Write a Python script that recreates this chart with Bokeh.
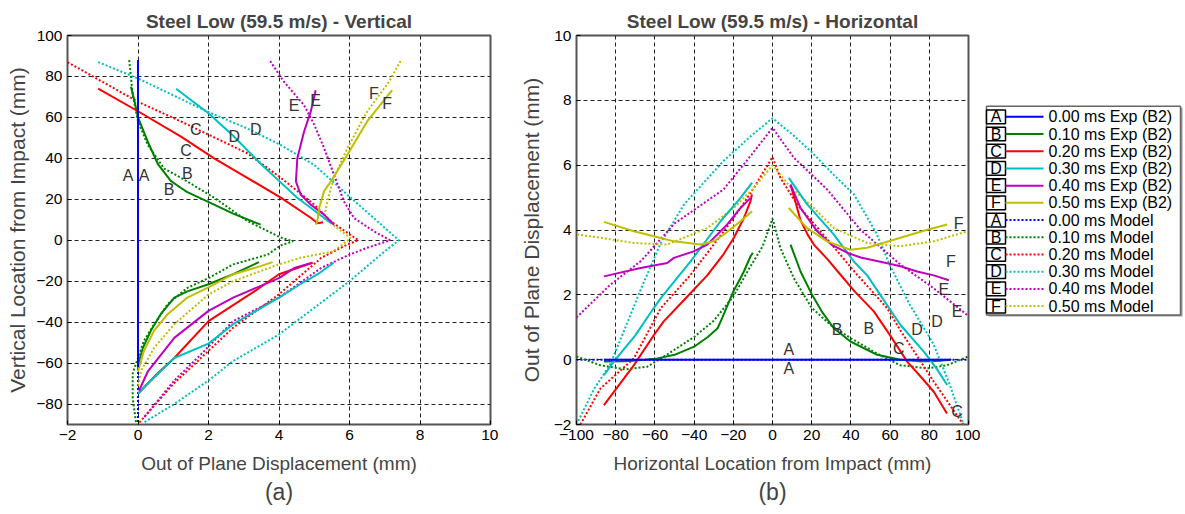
from bokeh.plotting import figure
from bokeh.layouts import row
from bokeh.models import Range1d, FixedTicker, Title, ColumnDataSource
from bokeh.core.properties import value
from bokeh.embed import file_html
from bokeh.resources import INLINE

FONT = "Liberation Sans"
LETTERS = ["A", "B", "C", "D", "E", "F"]
COLORS = ["#0000ff", "#008000", "#ff0000", "#00bfbf", "#bf00bf", "#bfbf00"]
TIMES = ["0.00", "0.10", "0.20", "0.30", "0.40", "0.50"]

# ---------------- (a) vertical: x = displacement (mm), y = vertical location (mm)
V_X_TICKS = [-2, 0, 2, 4, 6, 8, 10]
V_Y_TICKS = [-80, -60, -40, -20, 0, 20, 40, 60, 80, 100]

VA_EXP_X = [0, 0]
VA_EXP_Y = [88, -62]
VA_MOD_X = [0, 0]
VA_MOD_Y = [88, -90]

VB_EXP_UP_X = [-0.2, -0.1, 0.0, 0.28, 0.57, 0.93, 1.22, 1.4, 2.16, 2.7, 3.48]
VB_EXP_UP_Y = [75, 68, 60, 48, 37, 29, 25.5, 23.5, 17.4, 13, 7.6]
VB_EXP_LO_X = [3.43, 2.7, 2.0, 1.4, 1.03, 0.65, 0.37, 0.14, 0.03, 0.0]
VB_EXP_LO_Y = [-10.7, -16.6, -21.5, -25, -28, -36, -44, -52.5, -59, -63]
VB_MOD_X = [-0.25, -0.15, 0.0, 0.28, 0.74, 1.22, 2.16, 3.1, 4.05, 4.4, 4.05, 3.68, 2.7, 2.0,
            1.4, 0.85, 0.46, 0.17, 0.0, -0.15, -0.15, -0.05]
VB_MOD_Y = [88, 71, 58, 46.5, 35, 30.5, 20.8, 9.4, 1.3, -0.5, -2.5, -7, -11.8, -18.5,
            -23.3, -31, -41, -49, -57.4, -65, -77, -90]

VC_EXP_UP_X = [-1.13, 0, 1.22, 2.16, 3.1, 4.05, 4.9, 5.1, 5.25]
VC_EXP_UP_Y = [74, 63, 50.6, 40, 30.5, 20.8, 11, 8.3, 8.8]
VC_EXP_LO_X = [4.95, 4.0, 3.3, 2.0, 1.03, 0.56, 0.08, 0.0]
VC_EXP_LO_Y = [-11, -16.6, -25, -39.5, -57.5, -65, -73.5, -75]
VC_MOD_X = [-2.0, 0, 1.22, 3.1, 4.05, 5.0, 5.47, 6.25, 5.95, 5.2, 4.0, 2.7, 1.8, 1.0, 0.17, 0.0]
VC_MOD_Y = [87, 67.6, 58, 42.5, 30.5, 17.4, 9.2, 0, -2, -8.6, -26.4, -42.7, -57.3, -70.2, -86.5, -89.7]

VD_EXP_UP_X = [1.08, 1.5, 2.0, 2.7, 3.1, 3.5, 4.0, 4.5, 5.0, 5.47]
VD_EXP_UP_Y = [74, 68.5, 62, 51, 44, 37, 29, 21, 14.5, 8.4]
VD_EXP_LO_X = [5.55, 5.1, 4.6, 4.0, 2.7, 2.0, 1.03, 0.28, 0.0]
VD_EXP_LO_Y = [-11, -16.6, -21.5, -28, -41, -50.5, -57.5, -70, -75]
VD_MOD_X = [-1.13, 0, 1.97, 3.1, 4.05, 5.0, 5.94, 6.69, 7.4, 7.0, 6.0, 4.0, 2.7, 2.0, 1.03, 0.17]
VD_MOD_Y = [87, 79, 62.8, 54.6, 46.5, 36.8, 22.2, 10.8, 0, -5.4, -20, -46, -59, -68.5, -80, -89]

VE_EXP_UP_X = [5.04, 4.9, 4.71, 4.52, 4.48, 4.62, 4.9, 5.28, 5.56]
VE_EXP_UP_Y = [73.3, 62.8, 53, 40, 28.7, 22.2, 17.4, 12.5, 7.6]
VE_EXP_LO_X = [4.95, 4.43, 4.0, 2.7, 2.0, 1.03, 0.28, 0.03]
VE_EXP_LO_Y = [-11, -13.6, -18.5, -28, -34.5, -47.7, -64, -73.5]
VE_MOD_X = [3.75, 4.14, 4.71, 5.0, 5.28, 5.56, 5.84, 6.13, 6.69, 7.15, 6.5, 6.0, 5.2, 4.0, 2.7, 1.8, 1.03, 0.17]
VE_MOD_Y = [87.5, 77.4, 66, 56.4, 45, 32, 19, 10.8, 4.4, 0, -3.7, -7, -13.5, -28, -39.5, -55.5, -68.5, -86.6]

VF_EXP_UP_X = [7.21, 6.5, 5.94, 5.47, 5.28, 5.14, 5.09, 5.04]
VF_EXP_UP_Y = [73.3, 58, 41.8, 28.7, 24, 15.9, 9.4, 7.6]
VF_EXP_LO_X = [3.82, 3.3, 2.7, 2.0, 1.4, 0.85, 0.46, 0.17, 0.0]
VF_EXP_LO_Y = [-10.7, -13.6, -16.6, -23, -28, -36, -44, -54, -64]
VF_MOD_X = [7.45, 7.12, 6.5, 5.94, 5.56, 5.37, 5.28, 6.03, 5.55, 4.6, 4.0, 2.7, 2.0, 1.03, 0.46, 0.08, 0.0]
VF_MOD_Y = [87.5, 77.4, 62.8, 45, 30.5, 19, 10.8, 1.0, -5.4, -8.6, -11.8, -20, -26.5, -41, -52.5, -64, -72]

V_LABEL_TEXT = ["A", "A", "B", "B", "C", "C", "D", "D", "E", "E", "F", "F"]
V_LABEL_X = [-0.28, 0.17, 0.88, 1.4, 1.36, 1.64, 2.73, 3.34, 4.43, 5.04, 6.69, 7.07]
V_LABEL_Y = [31.6, 31.6, 25, 32.8, 44, 53.9, 50.6, 53.9, 66, 68.4, 71.7, 66.8]

# ---------------- (b) horizontal: x = horizontal location (mm), y = displacement (mm)
H_X_TICKS = [-100, -80, -60, -40, -20, 0, 20, 40, 60, 80, 100]
H_Y_TICKS = [-2, 0, 2, 4, 6, 8, 10]

HA_EXP_X = [-86, 91]
HA_EXP_Y = [0, 0]
HA_MOD_X = [-100, 100]
HA_MOD_Y = [0, 0]

HB_EXP_L_X = [-86, -75, -65, -58.7, -50, -40, -33, -28, -25.7, -20, -16.3, -14.6, -11.2, -10]
HB_EXP_L_Y = [-0.06, -0.05, 0.0, 0.04, 0.15, 0.4, 0.7, 0.97, 1.28, 2.1, 2.52, 2.72, 3.19, 3.3]
HB_EXP_R_X = [9.2, 14.3, 20.2, 25, 31.3, 39.8, 53.4, 65.3, 75, 82, 91]
HB_EXP_R_Y = [3.55, 2.72, 2.0, 1.5, 0.97, 0.56, 0.15, 0.0, -0.05, -0.05, 0.0]
HB_MOD_X = [-100, -88, -75, -64, -54, -40, -30, -20, -12, -5, 0, 4, 11, 20, 30, 40, 53, 65, 79, 89, 100]
HB_MOD_Y = [0.1, -0.17, -0.3, -0.22, 0.15, 0.7, 1.2, 1.95, 2.8, 3.5, 4.35, 3.45, 2.5, 1.6, 1.05, 0.66, 0.2, -0.17, -0.27, -0.17, 0.1]

HC_EXP_L_X = [-86, -70.7, -60.5, -55.5, -45, -33.3, -25, -19.7, -14.6, -11.2, -10.5]
HC_EXP_L_Y = [-1.4, -0.17, 0.76, 1.18, 1.85, 2.6, 3.25, 3.76, 4.37, 4.89, 5.1]
HC_EXP_R_X = [9.2, 12, 14.3, 18, 21.1, 28, 34.7, 42, 51.7, 60, 68.7, 76, 82.3, 89]
HC_EXP_R_Y = [5.4, 4.8, 4.3, 3.85, 3.55, 3.1, 2.62, 2.1, 1.49, 0.75, -0.06, -0.55, -0.99, -1.66]
HC_MOD_X = [-98, -87.8, -70.7, -57, -42, -24.8, -16.3, -9.5, 0, 4.1, 12.6, 24.5, 43.2, 58.5, 65.3, 82.3, 97.6]
HC_MOD_Y = [-2.0, -0.89, 0.04, 1.59, 2.6, 3.96, 4.68, 5.3, 6.25, 5.6, 4.79, 3.96, 2.62, 1.59, 0.9, -0.68, -2.02]

HD_EXP_L_X = [-86, -81, -70, -60.5, -57, -41.8, -26.5, -16.3, -10.4]
HD_EXP_L_Y = [-0.48, -0.06, 0.75, 1.6, 1.9, 3.03, 4.27, 4.99, 5.46]
HD_EXP_R_X = [8.3, 17.7, 31.3, 41.5, 48.3, 65.3, 77.2, 84, 89.1]
HD_EXP_R_Y = [5.61, 4.79, 3.86, 3.03, 2.6, 1.07, 0.25, -0.3, -0.78]
HD_MOD_X = [-100, -91, -83, -75, -67, -57, -45, -25, -11, 0, 11, 20, 31.3, 41.5, 53, 60, 70, 82, 90, 97.5]
HD_MOD_Y = [-2.0, -0.9, -0.17, 1.0, 2.2, 3.6, 4.8, 6.13, 6.9, 7.45, 6.9, 6.4, 5.7, 5.1, 3.9, 2.9, 1.7, 0.5, -0.7, -2.0]

HE_EXP_L_X = [-86, -67.3, -53.7, -50.3, -40.2, -33.3, -23.1, -16.3, -11.2]
HE_EXP_L_Y = [2.57, 2.83, 2.98, 3.14, 3.34, 3.55, 4.17, 4.68, 4.99]
HE_EXP_R_X = [9.2, 14.3, 22.8, 30, 38.1, 45, 56.8, 65.3, 73.8, 82.3, 90]
HE_EXP_R_Y = [5.4, 4.68, 3.96, 3.55, 3.3, 3.15, 3.0, 2.88, 2.72, 2.6, 2.45]
HE_MOD_X = [-100, -83, -67, -50, -25, -11, 0, 10.9, 27.9, 45, 65.3, 82.3, 99.3]
HE_MOD_Y = [1.3, 2.3, 3.05, 4.2, 5.25, 6.3, 7.15, 6.23, 5.25, 4.0, 2.93, 2.2, 1.38]

HF_EXP_L_X = [-86, -70.7, -60, -50.3, -36.7, -30, -24.8, -16.3, -10.4]
HF_EXP_L_Y = [4.25, 3.96, 3.8, 3.65, 3.55, 3.65, 3.86, 4.27, 4.58]
HF_EXP_R_X = [8.3, 17.7, 27.9, 39.8, 48.3, 65.3, 79, 89.1]
HF_EXP_R_Y = [4.68, 4.06, 3.65, 3.39, 3.45, 3.76, 4.01, 4.17]
HF_MOD_X = [-99.7, -87.8, -70.7, -53.7, -33.3, -19.7, -9.5, 0, 9.5, 21.1, 31.3, 48.3, 65.3, 82.3, 99.3]
HF_MOD_Y = [3.86, 3.76, 3.6, 3.55, 4.06, 4.68, 5.3, 6.0, 5.3, 4.68, 4.06, 3.6, 3.5, 3.65, 3.96]

H_LABEL_TEXT = ["F", "F", "E", "E", "D", "D", "B", "B", "C", "C", "A", "A"]
H_LABEL_X = [95, 91, 87.4, 94.2, 84, 73.8, 33, 49.1, 64.4, 94.2, 8.3, 8.3]
H_LABEL_Y = [4.2, 3.03, 2.16, 1.49, 1.18, 0.92, 0.92, 0.97, 0.35, -1.61, 0.3, -0.27]

LEGEND_LABELS = [t + " ms Exp (B2)" for t in TIMES] + [t + " ms Model" for t in TIMES]

V_SERIES = [
    (VA_MOD_X, VA_MOD_Y, [(VA_EXP_X, VA_EXP_Y)]),
    (VB_MOD_X, VB_MOD_Y, [(VB_EXP_UP_X, VB_EXP_UP_Y), (VB_EXP_LO_X, VB_EXP_LO_Y)]),
    (VC_MOD_X, VC_MOD_Y, [(VC_EXP_UP_X, VC_EXP_UP_Y), (VC_EXP_LO_X, VC_EXP_LO_Y)]),
    (VD_MOD_X, VD_MOD_Y, [(VD_EXP_UP_X, VD_EXP_UP_Y), (VD_EXP_LO_X, VD_EXP_LO_Y)]),
    (VE_MOD_X, VE_MOD_Y, [(VE_EXP_UP_X, VE_EXP_UP_Y), (VE_EXP_LO_X, VE_EXP_LO_Y)]),
    (VF_MOD_X, VF_MOD_Y, [(VF_EXP_UP_X, VF_EXP_UP_Y), (VF_EXP_LO_X, VF_EXP_LO_Y)]),
]
H_SERIES = [
    (HA_MOD_X, HA_MOD_Y, [(HA_EXP_X, HA_EXP_Y)]),
    (HB_MOD_X, HB_MOD_Y, [(HB_EXP_L_X, HB_EXP_L_Y), (HB_EXP_R_X, HB_EXP_R_Y)]),
    (HC_MOD_X, HC_MOD_Y, [(HC_EXP_L_X, HC_EXP_L_Y), (HC_EXP_R_X, HC_EXP_R_Y)]),
    (HD_MOD_X, HD_MOD_Y, [(HD_EXP_L_X, HD_EXP_L_Y), (HD_EXP_R_X, HD_EXP_R_Y)]),
    (HE_MOD_X, HE_MOD_Y, [(HE_EXP_L_X, HE_EXP_L_Y), (HE_EXP_R_X, HE_EXP_R_Y)]),
    (HF_MOD_X, HF_MOD_Y, [(HF_EXP_L_X, HF_EXP_L_Y), (HF_EXP_R_X, HF_EXP_R_Y)]),
]

H = 512
MODEL_DASH = "2 2"


def make_panel(width, xr, yr, xticks, yticks, title, xlabel, ylabel, sub, bl, br, ystand):
    p = figure(width=width, height=H, x_range=Range1d(*xr), y_range=Range1d(*yr),
               output_backend="svg", toolbar_location=None,
               min_border_left=bl, min_border_right=br, min_border_top=35, min_border_bottom=88)
    p.title.text = title
    p.title.text_font = FONT
    p.title.text_font_size = "19px"
    p.title.text_font_style = "bold"
    p.title.align = "center"
    p.title.standoff = 8
    p.title.offset = 0
    for ax, ticks, lab in ((p.xaxis, xticks, xlabel), (p.yaxis, yticks, ylabel)):
        ax.ticker = FixedTicker(ticks=ticks)
        ax.axis_label = lab
        ax.axis_label_text_font = FONT
        ax.axis_label_text_font_style = "normal"
        ax.major_label_text_font = FONT
        ax.major_label_text_font_size = "15.5px"
        ax.major_label_text_color = "#000000"
        ax.axis_line_color = None
        ax.major_tick_out = 0
        ax.major_tick_in = 4
        ax.major_tick_line_color = "#000000"
        ax.minor_tick_line_color = None
        ax.major_label_standoff = 5
    p.xaxis.axis_label_text_font_size = "19px"
    p.yaxis.axis_label_text_font_size = "21px"
    p.xaxis.axis_label_standoff = 10
    p.yaxis.axis_label_standoff = ystand
    for g in (p.xgrid, p.ygrid):
        g.grid_line_color = "#222222"
        g.grid_line_dash = "4 3"
        g.grid_line_width = 1
        g.grid_line_alpha = 1
    p.outline_line_color = "#555555"
    p.outline_line_width = 2
    p.add_layout(Title(text=sub, align="center", text_font=FONT, text_font_size="23px",
                       text_font_style="normal", standoff=0), "below")
    return p


def draw(p, series, lx, ly, lt):
    for (mx, my, exps), col in zip(series, COLORS):
        p.line(mx, my, line_color=col, line_width=2, line_dash=MODEL_DASH)
    for (mx, my, exps), col in zip(series[1:] + series[:1], COLORS[1:] + COLORS[:1]):
        for ex, ey in exps:
            p.line(ex, ey, line_color=col, line_width=2)
    src = ColumnDataSource(dict(x=lx, y=ly, t=lt))
    p.text(x="x", y="y", text="t", source=src, text_font=value(FONT), text_font_size="16px",
           text_color="#333333", text_align="center", text_baseline="middle")


pa = make_panel(498, (-2, 10), (-90, 100), V_X_TICKS, V_Y_TICKS,
                "Steel Low (59.5 m/s) - Vertical", "Out of Plane Displacement (mm)",
                "Vertical Location from Impact (mm)", "(a)", 67, 8, 4)
draw(pa, V_SERIES, V_LABEL_X, V_LABEL_Y, V_LABEL_TEXT)

pb = make_panel(482, (-100, 100), (-2, 10), H_X_TICKS, H_Y_TICKS,
                "Steel Low (59.5 m/s) - Horizontal", "Horizontal Location from Impact (mm)",
                "Out of Plane Displacement (mm)", "(b)", 78, 12, 8)
draw(pb, H_SERIES, H_LABEL_X, H_LABEL_Y, H_LABEL_TEXT)

# ---------------- legend panel (pixel coordinates)
LW = 205
leg = figure(width=LW, height=H, x_range=Range1d(0, LW), y_range=Range1d(H, 0),
             x_axis_type=None, y_axis_type=None, min_border=0, output_backend="svg",
             toolbar_location=None, outline_line_color=None)
leg.xgrid.visible = False
leg.ygrid.visible = False
BOX_L, BOX_R, BOX_T, BOX_B = 6, 200, 93, 368
ROW0, ROW_STEP = 107, 22.65
leg.quad(left=[BOX_L + 2], right=[BOX_R + 2], top=[BOX_T + 2], bottom=[BOX_B + 2],
         fill_color="#999999", line_color=None)
leg.quad(left=[BOX_L], right=[BOX_R], top=[BOX_T], bottom=[BOX_B],
         fill_color="white", line_color="#666666", line_width=1.5)
rows_y = [ROW0 + ROW_STEP * i for i in range(12)]
letters = LETTERS + LETTERS
cols = COLORS + COLORS
dashes = ["solid"] * 6 + [MODEL_DASH] * 6
leg.rect(x=[BOX_L + 9.5] * 12, y=rows_y, width=19, height=18, fill_color="white",
         line_color="#000000", line_width=1.5)
leg.text(x=[BOX_L + 9.5] * 12, y=rows_y, text=letters, text_font=value(FONT), text_font_size="16px",
         text_align="center", text_baseline="middle", text_color="#000000")
for yv, c, d in zip(rows_y, cols, dashes):
    leg.line([BOX_L + 19, BOX_L + 57], [yv, yv], line_color=c, line_width=2, line_dash=d)
leg.text(x=[BOX_L + 62] * 12, y=rows_y, text=LEGEND_LABELS, text_font=value(FONT),
         text_font_size="16px", text_align="left", text_baseline="middle", text_color="#000000")

layout = row(pa, pb, leg)
open("out.html", "w").write(file_html(layout, INLINE))
